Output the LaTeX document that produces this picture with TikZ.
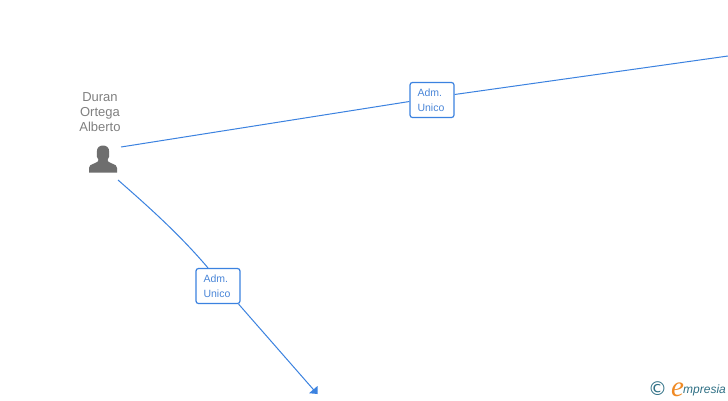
\documentclass[tikz,border=0pt]{standalone}
\usepackage{fontspec}
\setmainfont{Liberation Sans}
\newfontfamily\logofont{Liberation Serif}
\newfontfamily\copyfont{DejaVu Sans}
\usetikzlibrary{arrows.meta}
\definecolor{linkblue}{HTML}{3B82E0}
\definecolor{labelblue}{HTML}{4A86D8}
\definecolor{persongrey}{HTML}{6E6E6E}
\definecolor{namegrey}{HTML}{808080}
\definecolor{logoteal}{HTML}{2F7085}
\definecolor{logoorange}{HTML}{F08A24}
\tikzset{
  link/.style={draw=linkblue,line width=1pt},
  rolebox/.style={draw=linkblue,fill=white,rounded corners=2.5pt,line width=1.2pt,minimum width=44pt,minimum height=35pt,inner sep=0pt,align=left,text=labelblue,font=\fontsize{10.5}{15.5}\selectfont},
  nametext/.style={align=center,text=namegrey,inner sep=0pt,font=\fontsize{13}{15}\selectfont},
}
\begin{document}
\begin{tikzpicture}[x=1pt,y=-1pt]
\useasboundingbox[fill=white] (0,0) rectangle (728,400);
\coordinate (pa) at (121,147);
\coordinate (pb) at (118,180);
\coordinate (farright) at (728,56);
\coordinate (arrowend) at (316,392.5);
\node[rolebox] (r1) at (432,100) {\hspace{6pt}\parbox{35pt}{Adm.\\Unico}};
\node[rolebox] (r2) at (218,286) {\hspace{6pt}\parbox{35pt}{Adm.\\Unico}};
\draw[link] (pa) -- (r1.west |- 0,101.5);
\draw[link] (r1.east |- 0,94.5) -- (farright);
\draw[link] (pb) .. controls (150,208) and (180,235) .. (r2.north -| 208,0);
\draw[link] (r2.south east) ++(-2,0) -- (arrowend);
\fill[linkblue] (317.5,394) -- (309,393.2) -- (317.5,386) -- cycle;
\node[nametext] (name) at (100,112.5) {Duran\\Ortega\\Alberto};
\fill[persongrey] (89,172.5) -- (89,168) .. controls (89,165.5) and (91,164.5) .. (94,163.5)
  .. controls (97,162.5) and (98.5,161.5) .. (98.5,160) .. controls (96.5,158) and (96.8,156) .. (96.8,152)
  .. controls (96.8,147.5) and (99.5,145.5) .. (103,145.5) .. controls (106.5,145.5) and (109.2,147.5) .. (109.2,152)
  .. controls (109.2,156) and (109.5,158) .. (107.5,160) .. controls (107.5,161.5) and (109,162.5) .. (112,163.5)
  .. controls (115,164.5) and (117,165.5) .. (117,168) -- (117,172.5) -- cycle;
\node[inner sep=0pt,text=logoteal,font=\copyfont\fontsize{19}{19}\selectfont] (copy) at (657.5,388.5) {©};
\node[inner sep=0pt,text=logoorange,font=\logofont\itshape\fontsize{29}{29}\selectfont] (logoe) at (677.5,389.5) {e};
\node[inner sep=0pt,anchor=base west,text=logoteal,font=\itshape\fontsize{12}{12}\selectfont] (logotext) at (683,393) {mpresia};
\end{tikzpicture}
\end{document}
